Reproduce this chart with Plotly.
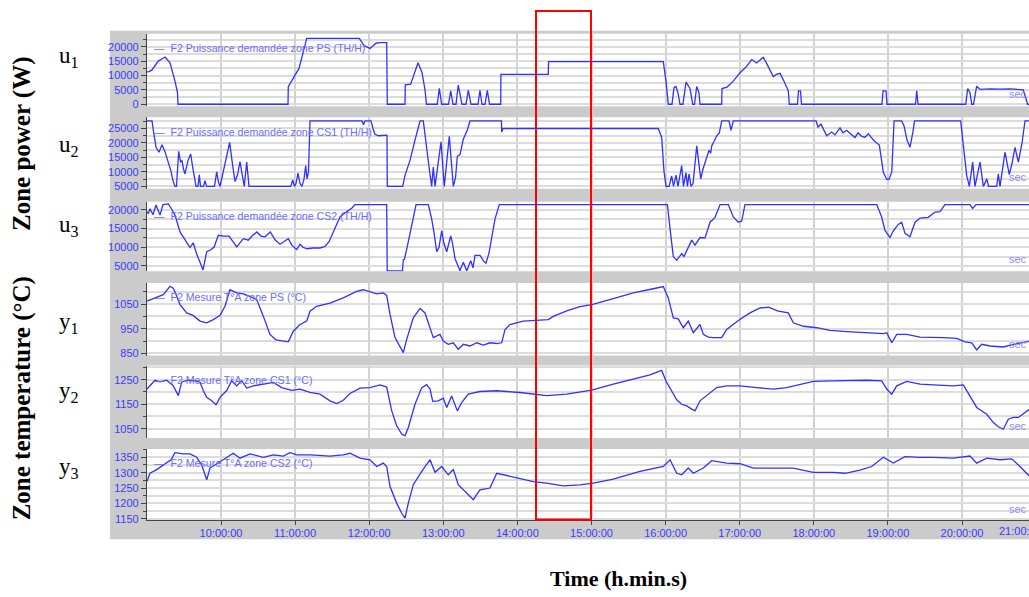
import plotly.graph_objects as go

W, H = 1029, 597

# time axis (decimal hours) and its labels
hours = list(range(10, 21))
hour_labels = ["%d:00:00" % h for h in hours]

# u1 : power zone PS (W)
u1_pts = [(9.0, 11300), (9.028, 11400), (9.069, 12000), (9.150, 15000), (9.245, 16500), (9.312, 14500),
          (9.380, 8000), (9.413, 4000), (9.420, 0), (10.904, 0), (10.908, 6100), (10.972, 9000),
          (11.053, 12500), (11.157, 23000), (11.866, 23000), (11.930, 20500), (12.011, 19500),
          (12.092, 21300), (12.146, 21500), (12.236, 21500), (12.244, 0), (12.483, 0), (12.487, 6800),
          (12.560, 7000), (12.659, 14500), (12.713, 11000), (12.753, 5000), (12.773, 0), (12.919, 0),
          (12.946, 5600), (12.978, 0), (13.070, 0), (13.100, 4700), (13.131, 0), (13.171, 0),
          (13.202, 6700), (13.252, 0), (13.306, 0), (13.337, 4900), (13.374, 0), (13.468, 0),
          (13.495, 4900), (13.522, 0), (13.563, 0), (13.594, 4900), (13.624, 0), (13.775, 0),
          (13.777, 10400), (14.417, 10400), (14.420, 14900), (15.969, 14900), (16.005, 8000),
          (16.036, 0), (16.086, 0), (16.113, 5800), (16.140, 6200), (16.167, 4000), (16.194, 0),
          (16.234, 0), (16.275, 7700), (16.329, 5500), (16.366, 0), (16.390, 0), (16.420, 6200),
          (16.451, 4000), (16.464, 0), (16.757, 0), (16.761, 5500), (16.829, 6000), (16.910, 8000),
          (17.004, 11000), (17.085, 13000), (17.162, 15600), (17.229, 14400), (17.274, 15500),
          (17.318, 16400), (17.368, 14000), (17.453, 9700), (17.503, 10500), (17.544, 10800),
          (17.598, 8000), (17.656, 4700), (17.669, 0), (17.780, 0), (17.793, 4700), (17.820, 4700),
          (17.834, 0), (18.920, 0), (18.934, 4700), (18.974, 4700), (18.988, 0), (19.373, 0),
          (19.389, 4700), (19.406, 0), (20.050, 0), (20.077, 5500), (20.108, 4000), (20.131, 0),
          (20.155, 0), (20.198, 6300), (20.243, 5200), (20.378, 5400), (20.513, 5300), (20.648, 5400),
          (20.782, 5100), (20.827, 5000), (20.863, 2000), (20.884, 0), (20.904, 0)]

# u2 : power zone CS1 (W)
u2_pts = [(9.001, 27600), (9.069, 27600), (9.089, 24000), (9.123, 18500), (9.163, 16800), (9.204, 19400),
          (9.244, 17000), (9.285, 13400), (9.325, 10300), (9.352, 7000), (9.379, 5000), (9.399, 5000),
          (9.429, 17100), (9.453, 13500), (9.474, 13900), (9.494, 11000), (9.514, 9300), (9.555, 14000),
          (9.591, 16200), (9.622, 11000), (9.663, 5000), (9.690, 5000), (9.707, 9000), (9.723, 5000),
          (9.764, 5000), (9.784, 7000), (9.804, 5000), (9.912, 5000), (9.942, 10000), (9.966, 6500),
          (9.987, 5000), (10.013, 8000), (10.067, 15000), (10.117, 20200), (10.148, 14000),
          (10.189, 6700), (10.223, 9000), (10.256, 13600), (10.283, 9500), (10.314, 5000),
          (10.347, 13400), (10.378, 5000), (10.941, 5000), (10.968, 7200), (10.992, 5000),
          (11.012, 6000), (11.039, 9600), (11.066, 6000), (11.093, 5000), (11.120, 7500),
          (11.143, 12200), (11.161, 7600), (11.181, 10000), (11.201, 27600), (11.903, 27600),
          (11.923, 26300), (11.943, 27600), (12.024, 27600), (12.051, 25000), (12.078, 23000),
          (12.128, 22500), (12.190, 22700), (12.240, 22700), (12.244, 5000), (12.452, 5000),
          (12.483, 8800), (12.551, 14000), (12.618, 21000), (12.686, 27600), (12.730, 27600),
          (12.767, 19000), (12.811, 11000), (12.843, 5000), (12.865, 11700), (12.888, 5000),
          (12.928, 13000), (12.969, 20400), (13.013, 5000), (13.043, 13000), (13.081, 22300),
          (13.135, 5000), (13.165, 8000), (13.189, 15400), (13.225, 16000), (13.270, 21300),
          (13.324, 24500), (13.360, 27600), (13.785, 27600), (13.788, 23800), (13.806, 25000),
          (15.901, 25000), (15.947, 21900), (15.979, 10000), (16.006, 5000), (16.047, 5000),
          (16.082, 8600), (16.107, 5000), (16.140, 8900), (16.167, 5000), (16.217, 12200),
          (16.241, 5000), (16.275, 9800), (16.295, 5000), (16.316, 9300), (16.343, 5000),
          (16.370, 6000), (16.420, 19000), (16.474, 7600), (16.505, 11000), (16.555, 15600),
          (16.586, 17500), (16.609, 16500), (16.622, 19000), (16.653, 20500), (16.690, 22500),
          (16.725, 23500), (16.757, 27600), (16.856, 27600), (16.883, 24400), (16.913, 27600),
          (18.030, 27600), (18.057, 25500), (18.097, 26500), (18.174, 22500), (18.242, 23800),
          (18.286, 22800), (18.354, 25200), (18.394, 23500), (18.444, 24400), (18.502, 23000),
          (18.556, 21900), (18.597, 23500), (18.646, 22300), (18.691, 22000), (18.736, 23200),
          (18.772, 22000), (18.813, 20800), (18.884, 19300), (18.907, 15000), (18.938, 9900),
          (18.984, 7400), (19.015, 7400), (19.052, 10000), (19.083, 27600), (19.186, 27600),
          (19.217, 26000), (19.258, 21000), (19.298, 18500), (19.339, 24000), (19.359, 27600),
          (19.982, 27600), (20.020, 18000), (20.063, 8800), (20.099, 5000), (20.144, 13400),
          (20.175, 5000), (20.209, 9000), (20.243, 13400), (20.288, 5000), (20.334, 7600),
          (20.358, 5000), (20.468, 5000), (20.490, 9300), (20.513, 5000), (20.580, 16800),
          (20.638, 9100), (20.675, 13000), (20.715, 18500), (20.760, 13400), (20.810, 20000),
          (20.850, 27600), (20.904, 27600)]

# u3 : power zone CS2 (W)
u3_pts = [(9.001, 19500), (9.019, 19000), (9.042, 20300), (9.082, 18700), (9.123, 21300), (9.177, 18600),
          (9.217, 21400), (9.289, 21600), (9.325, 20500), (9.379, 18600), (9.447, 14100), (9.514, 12000),
          (9.582, 9900), (9.626, 11200), (9.676, 7900), (9.717, 6000), (9.757, 3900), (9.807, 8800),
          (9.852, 9200), (9.906, 10000), (9.964, 13200), (10.031, 13000), (10.108, 13000),
          (10.162, 11500), (10.212, 10100), (10.301, 12300), (10.368, 11900), (10.418, 13000),
          (10.482, 14100), (10.540, 13000), (10.594, 12800), (10.665, 14100), (10.729, 12000),
          (10.796, 10800), (10.850, 11500), (10.908, 12300), (10.958, 10500), (11.022, 9400),
          (11.066, 10800), (11.107, 10000), (11.161, 9600), (11.242, 9800), (11.336, 9800),
          (11.404, 10200), (11.458, 11500), (11.515, 14100), (11.565, 16000), (11.606, 18100),
          (11.660, 19000), (11.718, 19800), (11.768, 20500), (11.808, 21400), (12.236, 21400),
          (12.243, 3700), (12.449, 3700), (12.460, 6600), (12.476, 6800), (12.528, 11500),
          (12.578, 16000), (12.632, 21400), (12.798, 21400), (12.843, 17600), (12.874, 14000),
          (12.911, 8800), (12.942, 10000), (12.978, 14400), (13.009, 11000), (13.046, 8800),
          (13.100, 13000), (13.125, 11000), (13.158, 7000), (13.225, 3700), (13.270, 6000),
          (13.316, 3700), (13.370, 6400), (13.401, 4500), (13.428, 7800), (13.495, 7800),
          (13.540, 6400), (13.576, 5700), (13.617, 8500), (13.653, 12600), (13.698, 17600),
          (13.756, 21400), (16.024, 21400), (16.060, 15000), (16.104, 7500), (16.150, 6500),
          (16.217, 8300), (16.248, 7500), (16.285, 9200), (16.352, 11900), (16.397, 10600),
          (16.464, 12600), (16.532, 12500), (16.600, 16700), (16.667, 18000), (16.735, 21400),
          (16.846, 21400), (16.913, 18100), (16.981, 16700), (17.027, 17000), (17.071, 21400),
          (18.849, 21400), (18.916, 18100), (18.961, 14500), (19.028, 12600), (19.073, 14400),
          (19.140, 16100), (19.186, 16700), (19.231, 13700), (19.298, 12800), (19.366, 16700),
          (19.433, 17800), (19.545, 18000), (19.635, 19400), (19.702, 19500), (19.770, 21400),
          (20.108, 21400), (20.144, 20400), (20.189, 21400), (20.904, 21400)]

# y1 : temperature zone PS (degC)
y1_pts = [(9.001, 1062), (9.109, 1075), (9.177, 1081), (9.221, 1088), (9.312, 1122), (9.356, 1114),
          (9.399, 1085), (9.447, 1048), (9.537, 1014), (9.622, 1004), (9.717, 981), (9.807, 974),
          (9.896, 987), (9.987, 1004), (10.054, 1041), (10.121, 1108), (10.212, 1095), (10.301, 1091),
          (10.392, 1081), (10.482, 1068), (10.571, 1001), (10.661, 927), (10.742, 905), (10.908, 897),
          (10.976, 940), (11.066, 967), (11.157, 981), (11.201, 1021), (11.291, 1041), (11.471, 1054),
          (11.650, 1075), (11.831, 1101), (11.920, 1108), (12.011, 1098), (12.101, 1091),
          (12.190, 1095), (12.236, 1085), (12.281, 1008), (12.348, 914), (12.460, 853), (12.506, 907),
          (12.595, 994), (12.686, 1032), (12.753, 1014), (12.821, 954), (12.865, 914), (12.955, 927),
          (13.000, 900), (13.067, 887), (13.135, 893), (13.202, 867), (13.270, 887), (13.360, 880),
          (13.451, 893), (13.540, 884), (13.630, 893), (13.721, 890), (13.788, 893), (13.833, 947),
          (13.900, 967), (14.080, 981), (14.260, 983), (14.417, 987), (14.484, 1000), (14.665, 1022),
          (14.845, 1040), (15.003, 1048), (15.294, 1072), (15.564, 1095), (15.834, 1112),
          (15.969, 1121), (16.036, 1075), (16.104, 994), (16.171, 990), (16.239, 954), (16.306, 981),
          (16.374, 934), (16.464, 967), (16.509, 927), (16.576, 916), (16.644, 914), (16.757, 914),
          (16.825, 947), (16.981, 983), (17.139, 1014), (17.274, 1034), (17.386, 1037),
          (17.521, 1021), (17.656, 1014), (17.723, 974), (17.858, 960), (18.039, 954), (18.218, 943),
          (18.444, 938), (18.668, 934), (18.938, 930), (18.984, 934), (19.052, 893), (19.119, 927),
          (19.254, 927), (19.433, 916), (19.612, 916), (19.747, 914), (19.928, 911), (20.040, 897),
          (20.131, 893), (20.198, 864), (20.266, 887), (20.378, 880), (20.557, 876), (20.692, 887),
          (20.873, 897), (20.904, 900)]

# y2 : temperature zone CS1 (degC)
y2_pts = [(9.001, 1212), (9.109, 1248), (9.177, 1241), (9.267, 1248), (9.356, 1225), (9.424, 1185),
          (9.470, 1241), (9.559, 1248), (9.649, 1245), (9.717, 1240), (9.761, 1206), (9.807, 1178),
          (9.874, 1164), (9.933, 1148), (9.987, 1178), (10.077, 1206), (10.144, 1246), (10.212, 1225),
          (10.279, 1246), (10.347, 1216), (10.436, 1225), (10.571, 1232), (10.706, 1239),
          (10.819, 1218), (10.954, 1207), (11.066, 1212), (11.201, 1198), (11.336, 1191),
          (11.471, 1164), (11.561, 1153), (11.650, 1166), (11.741, 1194), (11.876, 1216),
          (12.011, 1218), (12.146, 1229), (12.236, 1220), (12.304, 1123), (12.371, 1062),
          (12.439, 1028), (12.483, 1021), (12.528, 1055), (12.618, 1150), (12.709, 1218),
          (12.776, 1230), (12.821, 1212), (12.857, 1162), (12.933, 1164), (13.000, 1175),
          (13.046, 1137), (13.113, 1184), (13.189, 1123), (13.248, 1157), (13.337, 1191),
          (13.495, 1202), (13.721, 1205), (14.035, 1198), (14.238, 1191), (14.395, 1185),
          (14.665, 1191), (15.003, 1208), (15.294, 1232), (15.564, 1252), (15.789, 1270),
          (15.947, 1288), (16.012, 1240), (16.082, 1204), (16.150, 1168), (16.217, 1150),
          (16.285, 1143), (16.352, 1130), (16.397, 1123), (16.464, 1164), (16.600, 1198),
          (16.690, 1218), (16.825, 1225), (17.004, 1225), (17.229, 1218), (17.453, 1212),
          (17.634, 1218), (17.993, 1243), (18.263, 1245), (18.714, 1248), (18.916, 1245),
          (18.984, 1212), (19.052, 1191), (19.119, 1225), (19.254, 1243), (19.433, 1232),
          (19.612, 1229), (19.883, 1225), (20.018, 1229), (20.108, 1184), (20.198, 1137),
          (20.334, 1109), (20.423, 1075), (20.490, 1058), (20.557, 1048), (20.625, 1089),
          (20.692, 1096), (20.760, 1096), (20.873, 1123), (20.904, 1128)]

# y3 : temperature zone CS2 (degC)
y3_pts = [(9.001, 1271), (9.042, 1298), (9.132, 1310), (9.267, 1331), (9.325, 1342), (9.379, 1365),
          (9.491, 1361), (9.582, 1361), (9.672, 1350), (9.740, 1325), (9.807, 1277), (9.852, 1315),
          (9.942, 1329), (10.077, 1350), (10.166, 1363), (10.256, 1347), (10.391, 1361),
          (10.571, 1350), (10.706, 1358), (10.841, 1354), (10.931, 1365), (11.022, 1358),
          (11.201, 1358), (11.471, 1354), (11.650, 1358), (11.741, 1363), (11.876, 1347),
          (12.011, 1342), (12.101, 1320), (12.190, 1331), (12.236, 1320), (12.281, 1255),
          (12.371, 1201), (12.439, 1168), (12.483, 1152), (12.528, 1201), (12.595, 1261),
          (12.709, 1304), (12.821, 1342), (12.888, 1301), (12.978, 1320), (13.067, 1293),
          (13.135, 1310), (13.202, 1261), (13.292, 1239), (13.360, 1223), (13.405, 1212),
          (13.495, 1244), (13.630, 1250), (13.721, 1298), (13.991, 1282), (14.215, 1271),
          (14.395, 1266), (14.619, 1257), (14.845, 1260), (15.024, 1266), (15.294, 1279),
          (15.654, 1304), (15.969, 1320), (16.060, 1342), (16.150, 1298), (16.217, 1293),
          (16.306, 1315), (16.374, 1298), (16.509, 1315), (16.622, 1339), (16.825, 1331),
          (17.004, 1329), (17.184, 1315), (17.453, 1315), (17.723, 1315), (17.993, 1301),
          (18.263, 1301), (18.421, 1298), (18.623, 1308), (18.781, 1320), (18.938, 1350),
          (19.073, 1331), (19.231, 1352), (19.433, 1350), (19.612, 1350), (19.883, 1347),
          (20.108, 1354), (20.198, 1331), (20.334, 1347), (20.513, 1342), (20.671, 1345),
          (20.782, 1320), (20.873, 1296), (20.904, 1290)]

legend_names = ["F2 Puissance demandée zone PS (TH/H)",
                "F2 Puissance demandée zone CS1 (TH/H)",
                "F2 Puissance demandée zone CS2 (TH/H)",
                "F2 Mesure T°A zone PS (°C)",
                "F2 Mesure T°A zone CS1 (°C)",
                "F2 Mesure T°A zone CS2 (°C)"]
side_names = ["u<sub>1</sub>", "u<sub>2</sub>", "u<sub>3</sub>",
              "y<sub>1</sub>", "y<sub>2</sub>", "y<sub>3</sub>"]

# panel pixel extents (top, bottom), y range, major/minor steps
panels = [
    dict(pts=u1_pts, px=(34, 107), rng=[-700, 24600], tick0=0, dtick=5000, minor=2500, side=57),
    dict(pts=u2_pts, px=(118, 190), rng=[4200, 28900], tick0=0, dtick=5000, minor=2500, side=147),
    dict(pts=u3_pts, px=(203, 273), rng=[3600, 22200], tick0=0, dtick=5000, minor=2500, side=228),
    dict(pts=y1_pts, px=(285, 358), rng=[841, 1135], tick0=850, dtick=100, minor=50, side=325),
    dict(pts=y2_pts, px=(368, 441), rng=[1012, 1308], tick0=1050, dtick=100, minor=50, side=395),
    dict(pts=y3_pts, px=(452, 524), rng=[1144.5, 1377], tick0=1150, dtick=50, minor=25, side=471),
]

BLUE = "#3a3aff"
LINE = "#3030ff"
GRID = "#dcdcdc"
AXF = "Arial, Liberation Sans, sans-serif"
SERIF = "Times New Roman, Liberation Serif, serif"
x_left = 146.9 / W

fig = go.Figure()
layout = {}
annotations = []
shapes = [
    # grey frame behind the six panels
    dict(type="rect", xref="paper", yref="paper", x0=110 / W, x1=1.0, y0=1 - 543 / H, y1=1 - 31 / H,
         fillcolor="#cbcbcb", line=dict(width=0), layer="below"),
]
for i, p in enumerate(panels):
    n = "" if i == 0 else str(i + 1)
    t = [a for a, b in p["pts"]]
    v = [b for a, b in p["pts"]]
    fig.add_trace(go.Scatter(x=t, y=v, mode="lines", xaxis="x", yaxis="y" + n,
                             line=dict(color=LINE, width=1.3), showlegend=False))
    top, bot = p["px"]
    # white plotting area of the panel
    shapes.append(dict(type="rect", xref="paper", yref="paper", x0=x_left, x1=1.0,
                       y0=1 - bot / H, y1=1 - top / H, fillcolor="white",
                       line=dict(width=0), layer="below"))
    layout["yaxis" + n] = dict(
        domain=[1 - bot / H, 1 - top / H], range=p["rng"], anchor="x",
        tick0=p["tick0"], dtick=p["dtick"], tickformat="d",
        showgrid=True, gridcolor=GRID, gridwidth=2, zeroline=False,
        showline=True, linecolor="#444", linewidth=1,
        ticks="outside", ticklen=5, tickcolor="#444",
        tickfont=dict(family=AXF, size=11, color=BLUE),
        minor=dict(dtick=p["minor"], showgrid=True, gridcolor=GRID, gridwidth=2,
                   ticks="outside", ticklen=3, tickcolor="#444"),
    )
    # in-plot legend text
    annotations.append(dict(xref="paper", yref="paper", x=152 / W, y=1 - (top + 14.5) / H,
                            xanchor="left", yanchor="middle", showarrow=False,
                            text="—  " + legend_names[i],
                            font=dict(family=AXF, size=10.6, color="#6b6bff")))
    annotations.append(dict(xref="paper", yref="paper", x=1.0, y=1 - (bot - 12) / H,
                            xanchor="right", yanchor="middle", showarrow=False, text="sec",
                            font=dict(family=AXF, size=11, color="#8a8aff")))
    annotations.append(dict(xref="paper", yref="paper", x=69 / W, y=1 - p["side"] / H,
                            xanchor="center", yanchor="middle", showarrow=False,
                            text=side_names[i], font=dict(family=SERIF, size=23, color="black")))

layout["xaxis"] = dict(
    domain=[x_left, 1.0], range=[9.0, 20.904], anchor="y6",
    tickmode="array", tickvals=hours, ticktext=hour_labels,
    showgrid=True, gridcolor="#d2d2d2", gridwidth=2, zeroline=False,
    showline=True, linecolor="#444", linewidth=1,
    ticks="outside", ticklen=4, tickcolor="#444", ticklabelstandoff=-2,
    tickfont=dict(family=AXF, size=11, color=BLUE),
)

# last hour label, partly cut by the right edge as in the original screen capture
annotations.append(dict(xref="paper", yref="paper", x=997 / W, y=1 - 535 / H, xanchor="left",
                        yanchor="middle", showarrow=False, text="21:00:00",
                        font=dict(family=AXF, size=11, color=BLUE)))

annotations.append(dict(xref="paper", yref="paper", x=22 / W, y=1 - 145 / H, textangle=-90,
                        xanchor="center", yanchor="middle",
                        showarrow=False, text="<b>Zone power (W)</b>",
                        font=dict(family=SERIF, size=25, color="black")))
annotations.append(dict(xref="paper", yref="paper", x=22 / W, y=1 - 401 / H, textangle=-90,
                        xanchor="center", yanchor="middle",
                        showarrow=False, text="<b>Zone temperature (°C)</b>",
                        font=dict(family=SERIF, size=25, color="black")))
annotations.append(dict(xref="paper", yref="paper", x=618 / W, y=1 - 582 / H,
                        xanchor="center", yanchor="middle",
                        showarrow=False, text="<b>Time (h.min.s)</b>",
                        font=dict(family=SERIF, size=22, color="black")))

# highlighted time window
shapes.append(dict(type="rect", xref="x", yref="paper", x0=14.251, x1=14.993, y0=1 - 523 / H,
                   y1=1 - 11 / H, line=dict(color="#ff0000", width=2),
                   fillcolor="rgba(0,0,0,0)", layer="above"))

fig.update_layout(
    width=W, height=H, margin=dict(l=0, r=0, t=0, b=0),
    paper_bgcolor="white", plot_bgcolor="white",
    annotations=annotations, shapes=shapes, **layout,
)

# no toolbar, and no default page margin so the figure sits at the window's corner
fig.write_html("out.html", config={"displayModeBar": False},
               post_script="document.body.style.margin='0';")
